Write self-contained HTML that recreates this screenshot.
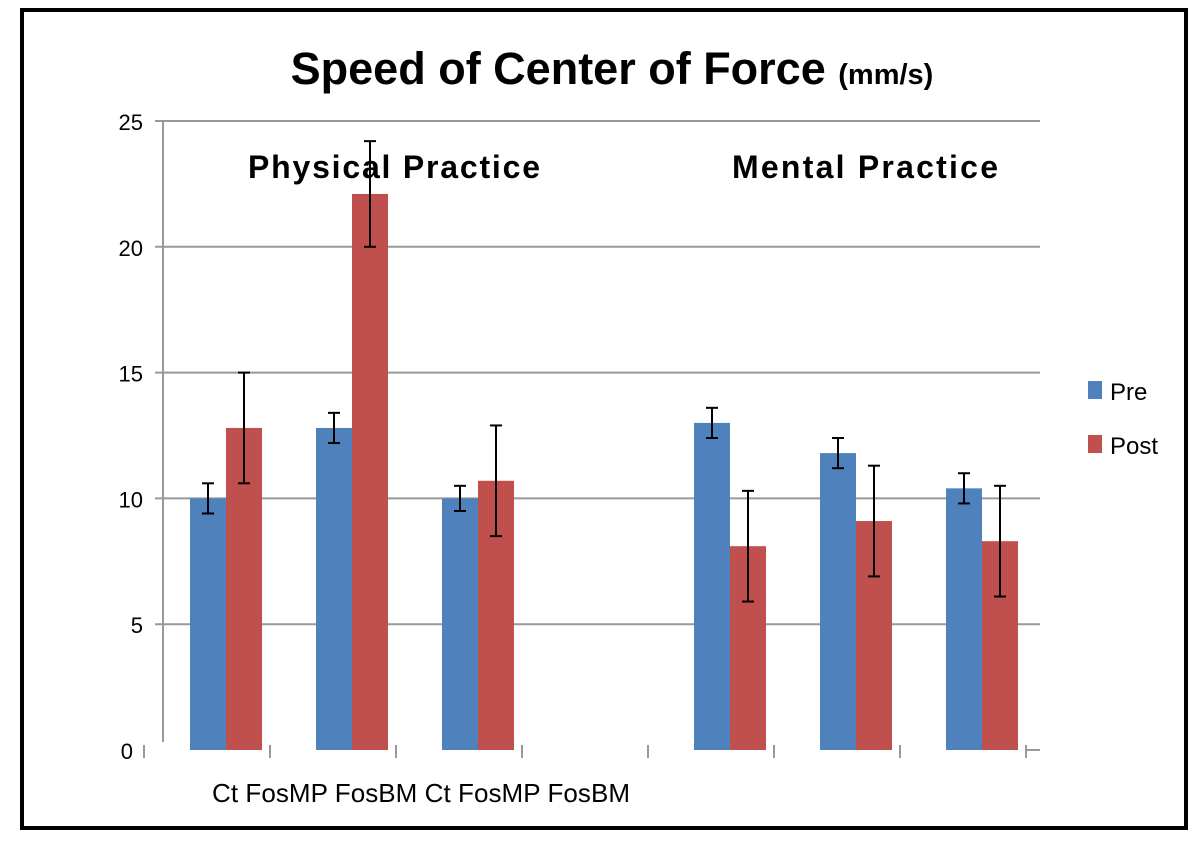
<!DOCTYPE html>
<html><head><meta charset="utf-8"><style>
html,body{margin:0;padding:0;background:#fff;}
body{width:1200px;height:843px;overflow:hidden;position:relative;font-family:"Liberation Sans",sans-serif;}
#frame{position:absolute;left:20px;top:8px;width:1160px;height:814px;border:4px solid #000;box-sizing:content-box;}
</style></head><body>
<div id="frame"></div>
<svg id="chart" width="1200" height="843" style="position:absolute;left:0;top:0">
<text x="612" y="84" text-anchor="middle" font-family="Liberation Sans, sans-serif" font-weight="bold"><tspan font-size="45">Speed of Center of Force </tspan><tspan font-size="29">(mm/s)</tspan></text>
<text x="248" y="178" font-size="32" font-weight="bold" textLength="292">Physical  Practice</text>
<text x="732" y="178" font-size="32" font-weight="bold" textLength="266">Mental Practice</text>
<text x="212" y="802" font-size="26" textLength="418">Ct FosMP FosBM Ct FosMP FosBM</text>
<g id="grid"></g><g id="bars"></g>
<rect x="1088" y="381" width="14" height="18" fill="#4f81bd"/>
<text x="1110" y="400" font-size="24">Pre</text>
<rect x="1088" y="435" width="14" height="18" fill="#c0504d"/>
<text x="1110" y="454" font-size="24">Post</text>
</svg>
<script>
const categories=["Ct","FosMP","FosBM","","Ct","FosMP","FosBM"];
const preValues=[10,12.8,10,null,13,11.8,10.4];
const postValues=[12.8,22.1,10.7,null,8.1,9.1,8.3];
const preErr=[0.6,0.6,0.5,null,0.6,0.6,0.6];
const postErr=[2.2,2.1,2.2,null,2.2,2.2,2.2];
const yTicks=[0,5,10,15,20,25];
const NS="http://www.w3.org/2000/svg";
const y0=750,yTop=121,yMax=25;
function y(v){return y0-(v/yMax)*(y0-yTop);}
const slotStart=144,slotW=126;
function x(i){return slotStart+i*slotW;}
function mk(tag,attrs,parent){const e=document.createElementNS(NS,tag);for(const k in attrs)e.setAttribute(k,attrs[k]);parent.appendChild(e);return e;}
const grid=document.getElementById('grid'),bars=document.getElementById('bars');
yTicks.forEach(t=>{
  if(t>0){const l=mk('line',{x1:155,x2:1040,y1:y(t),y2:y(t),stroke:'#999','stroke-width':2},grid);
  
  }
  const tx=mk('text',{x:t===0?133:143,y:y(t)+9,'text-anchor':'end','font-size':22},grid);
  tx.textContent=t;
  
  
});
const ax=mk('line',{x1:163,x2:163,y1:yTop,y2:742,stroke:'#999','stroke-width':2},grid);


for(let i=0;i<=categories.length;i++){
  const tk=mk('line',{x1:x(i),x2:x(i),y1:745,y2:758,stroke:'#999','stroke-width':2},grid);
  
  
}
const endDash=mk('line',{x1:x(7),x2:1040,y1:750,y2:750,stroke:'#999','stroke-width':2},grid);


const bw=36;
categories.forEach((c,i)=>{
  [[preValues,preErr,'#4f81bd','pre'],[postValues,postErr,'#c0504d','post']].forEach((s,j)=>{
    const v=s[0][i];if(v==null)return;
    const bx=x(i)+82-bw+j*bw;
    const r=mk('rect',{x:bx,y:y(v),width:bw,height:y0-y(v),fill:s[2]},bars);
    
    
    const e=s[1][i],cx=bx+bw/2;
    const g=mk('g',{stroke:'#000','stroke-width':2},bars);
    
    
    mk('line',{x1:cx,x2:cx,y1:y(v+e),y2:y(v-e)},g);
    mk('line',{x1:cx-6,x2:cx+6,y1:y(v+e),y2:y(v+e)},g);
    mk('line',{x1:cx-6,x2:cx+6,y1:y(v-e),y2:y(v-e)},g);
  });
});
</script>
</body></html>
